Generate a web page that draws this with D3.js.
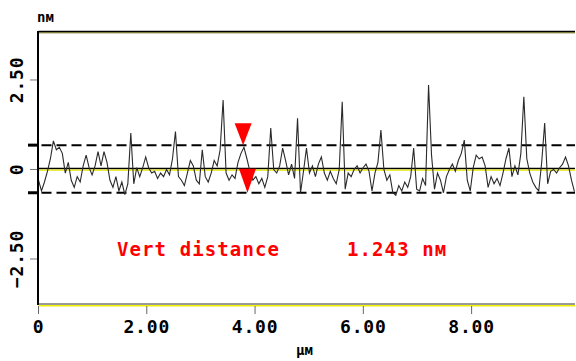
<!DOCTYPE html>
<html>
<head>
<meta charset="utf-8">
<script src="https://cdn.jsdelivr.net/npm/d3@7/dist/d3.min.js"></script>
<style>
  html, body { margin: 0; padding: 0; background: #fff; }
  svg { display: block; }
  text { font-family: "DejaVu Sans Mono", "Liberation Mono", monospace; font-weight: bold; }
</style>
</head>
<body>
<div id="chart"></div>
<script>
// profile heights (nm), sampled every STEP µm from x = 0
const STEP = 0.055;
const heights = [
  -0.3, -0.6, -0.35, -0.05, 0.3, 0.8, 0.55, 0.62, 0.45, -0.1,
  0.2, -0.3, -0.5, -0.2, -0.35, 0.1, 0.4, 0.05, -0.15, 0.1,
  0.5, 0.1, 0.5, 0.2, -0.3, -0.5, -0.2, -0.6, -0.35, -0.7,
  -0.4, 1.02, -0.4, 0.05, -0.2, 0.05, 0.35, 0.05, -0.1, -0.05,
  -0.25, -0.1, -0.2, 0.0, -0.15, 0.3, 1.06, -0.2, -0.3, -0.45,
  -0.1, 0.25, 0.1, -0.3, -0.4, 0.55, -0.2, -0.35, -0.1, 0.25,
  0.1, 0.55, 1.94, -0.1, -0.3, -0.15, -0.25, 0.2, 0.45, 0.62,
  0.3, -0.05, -0.3, -0.2, -0.4, -0.25, -0.5, -0.2, 1.16, 0.0,
  -0.1, 0.1, 0.6, 0.25, -0.15, 0.15, -0.25, 1.43, -0.65, -0.05,
  0.6, -0.1, 0.1, -0.2, 0.15, 0.35, -0.1, -0.3, -0.05, -0.25,
  -0.4, 0.0, 1.89, -0.55, -0.1, -0.2, 0.0, 0.1, -0.1, 0.05,
  0.15, -0.05, -0.6, -0.1, 0.2, 1.1, 0.0, -0.3, -0.15, -0.65,
  -0.72, -0.45, -0.6, -0.35, -0.5, -0.2, 0.6, -0.55, -0.6, -0.25,
  -0.45, 2.36, 0.4, -0.55, -0.1, -0.3, -0.65, -0.2, 0.0, 0.15,
  -0.05, 0.25, 0.45, 0.82, -0.3, -0.6, 0.05, 0.4, 0.3, 0.35,
  0.1, -0.5, -0.2, -0.4, -0.25, -0.45, -0.1, 0.3, 0.6, -0.2,
  0.1, -0.15, 0.45, 2.03, 0.3, -0.1, -0.35, -0.5, -0.6, 0.2,
  1.3, -0.4, -0.05, 0.0, -0.1, 0.05, 0.15, 0.35, 0.1, -0.3,
  -0.62
];

const xTicks = [0, 2, 4, 6, 8];
const xTickLabels = ["0", "2.00", "4.00", "6.00", "8.00"];
const yTicks = [2.5, 0, -2.5];
const yTickLabels = ["2.50", "0", "\u22122.50"];

// section cursors: upper / lower marker (µm, nm)
const cursorX = [3.78, 3.86];
const cursorZ = [0.68, -0.65];
const vertLabel = "Vert distance";
const vertValue = "1.243 n\u043c";

const width = 576, height = 361;
const svg = d3.select("#chart").append("svg")
  .attr("width", width)
  .attr("height", height);

const x = d3.scaleLinear().domain([0, 9.91]).range([38.5, 575]);
const y = d3.scaleLinear().domain([-3.785, 3.84]).range([305, 32]);

const x0 = x.range()[0], x1 = x.range()[1];

// top border: black + dark olive
svg.append("line").attr("x1", x0).attr("x2", x1).attr("y1", 31.5).attr("y2", 31.5)
  .attr("stroke", "#000").attr("stroke-width", 1.5);
svg.append("line").attr("x1", x0).attr("x2", x1).attr("y1", 32.8).attr("y2", 32.8)
  .attr("stroke", "#5e5e08").attr("stroke-width", 1);

// bottom border: gray + yellow
svg.append("line").attr("x1", x0).attr("x2", x1).attr("y1", 304).attr("y2", 304)
  .attr("stroke", "#777").attr("stroke-width", 1.5);
svg.append("line").attr("x1", x0).attr("x2", x1).attr("y1", 305.8).attr("y2", 305.8)
  .attr("stroke", "#f0f000").attr("stroke-width", 1.5);

// y ticks
svg.append("g").selectAll("line").data(yTicks).join("line")
  .attr("x1", 30).attr("x2", 38)
  .attr("y1", d => y(d)).attr("y2", d => y(d))
  .attr("stroke", "#777").attr("stroke-width", 1);

svg.append("g").selectAll("text").data(yTicks).join("text")
  .attr("transform", d => `translate(23,${y(d)}) rotate(-90)`)
  .attr("text-anchor", "middle")
  .attr("font-size", 18)
  .attr("letter-spacing", 0.8)
  .attr("fill", "#000")
  .text((d, i) => yTickLabels[i]);

// x ticks
svg.append("g").selectAll("line").data(xTicks).join("line")
  .attr("x1", d => x(d)).attr("x2", d => x(d))
  .attr("y1", 306).attr("y2", 314)
  .attr("stroke", "#666").attr("stroke-width", 1);

svg.append("g").selectAll("text").data(xTicks).join("text")
  .attr("x", d => x(d))
  .attr("y", 332.5)
  .attr("text-anchor", "middle")
  .attr("font-size", 18)
  .attr("letter-spacing", 0.8)
  .attr("fill", "#000")
  .text((d, i) => xTickLabels[i]);

// unit labels
svg.append("text").attr("x", 37).attr("y", 22)
  .attr("font-size", 14).attr("fill", "#000").text("n\u043c");
svg.append("text").attr("x", 296).attr("y", 355)
  .attr("font-size", 14).attr("fill", "#000").text("\u00b5\u043c");

// zero line: black with yellow below
svg.append("line").attr("x1", x0).attr("x2", x1).attr("y1", y(0) - 1).attr("y2", y(0) - 1)
  .attr("stroke", "#000").attr("stroke-width", 1.3);
svg.append("line").attr("x1", x0).attr("x2", x1).attr("y1", y(0) + 0.7).attr("y2", y(0) + 0.7)
  .attr("stroke", "#e6e600").attr("stroke-width", 1.3);

// cursor level dashed lines
svg.append("g").selectAll("line").data(cursorZ).join("line")
  .attr("x1", x0).attr("x2", x1)
  .attr("y1", d => y(d)).attr("y2", d => y(d))
  .attr("stroke", "#000").attr("stroke-width", 2)
  .attr("stroke-dasharray", "10,5")
  .attr("stroke-dashoffset", -3);

// bold left marks at cursor levels
svg.append("g").selectAll("line").data(cursorZ).join("line")
  .attr("x1", 28).attr("x2", 38)
  .attr("y1", d => y(d)).attr("y2", d => y(d))
  .attr("stroke", "#000").attr("stroke-width", 3);

// profile trace
const line = d3.line()
  .x((d, i) => x(i * STEP))
  .y(d => y(d));

svg.append("path")
  .datum(heights)
  .attr("fill", "none")
  .attr("stroke", "#2a2a2a")
  .attr("stroke-width", 1.1)
  .attr("d", line);

// left axis
svg.append("line").attr("x1", 38).attr("x2", 38).attr("y1", 31).attr("y2", 305)
  .attr("stroke", "#000").attr("stroke-width", 2);

// red cursor triangles (apex at cursor point, pointing down)
const triH = [22, 24], triW = 17;
svg.append("g").selectAll("path").data(cursorX).join("path")
  .attr("d", (d, i) => {
    const cx = x(d), cy = y(cursorZ[i]);
    return `M${cx - triW / 2},${cy - triH[i]}L${cx + triW / 2},${cy - triH[i]}L${cx},${cy}Z`;
  })
  .attr("fill", "#ff0000");

// measurement text
svg.append("text").attr("x", 117).attr("y", 256)
  .attr("font-size", 19).attr("letter-spacing", 1.1)
  .attr("fill", "#ff0000").text(vertLabel);
svg.append("text").attr("x", 347).attr("y", 256)
  .attr("font-size", 19).attr("letter-spacing", 1.1)
  .attr("fill", "#ff0000").text(vertValue);
</script>
</body>
</html>
